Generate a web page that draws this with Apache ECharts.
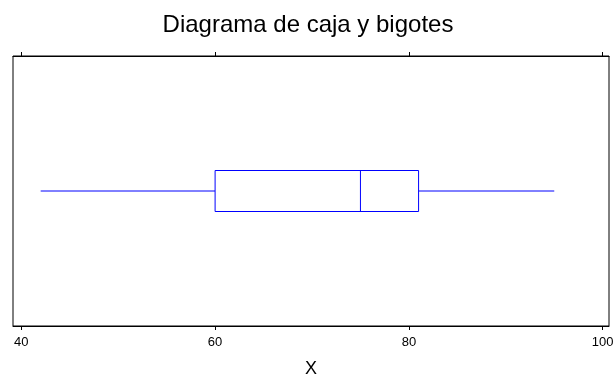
<!DOCTYPE html>
<html>
<head>
<meta charset="utf-8">
<script src="https://cdn.jsdelivr.net/npm/echarts@6/dist/echarts.min.js"></script>
<style>
  html, body { margin: 0; padding: 0; background: #fff; }
  #chart { width: 616px; height: 376px; }
</style>
</head>
<body>
<div id="chart"></div>
<script>
// Five-number summary of X: [min, Q1, median, Q3, max]
const categories = ['X'];
const boxValues = [[42, 60, 75, 81, 95]];
const tickValues = [40, 60, 80, 100];

const titleText = 'Diagrama de caja y bigotes';
const axisName = 'X';

const font = '"Liberation Sans", Arial, sans-serif';
const BOX_HEIGHT = 41;
const BLUE = '#0000ff';

const chart = echarts.init(document.getElementById('chart'), null, { renderer: 'canvas' });

// Box with plain whiskers (no end caps), positioned through the axes' scales
function renderBox(params, api) {
  const lo = api.value(0), q1 = api.value(1), med = api.value(2),
        q3 = api.value(3), hi = api.value(4), cat = api.value(5);
  const pLo = api.coord([lo, cat]);
  const pQ1 = api.coord([q1, cat]);
  const pMed = api.coord([med, cat]);
  const pQ3 = api.coord([q3, cat]);
  const pHi = api.coord([hi, cat]);
  const cy = pMed[1];
  const half = BOX_HEIGHT / 2;
  const line = { stroke: BLUE, lineWidth: 1 };
  return {
    type: 'group',
    children: [
      { type: 'line', shape: { x1: pLo[0], y1: cy, x2: pQ1[0], y2: cy }, style: line },
      { type: 'line', shape: { x1: pQ3[0], y1: cy, x2: pHi[0], y2: cy }, style: line },
      { type: 'rect', shape: { x: pQ1[0], y: cy - half, width: pQ3[0] - pQ1[0], height: BOX_HEIGHT },
        style: { fill: '#fff', stroke: BLUE, lineWidth: 1 } },
      { type: 'line', shape: { x1: pMed[0], y1: cy - half, x2: pMed[0], y2: cy + half }, style: line }
    ]
  };
}

chart.setOption({
  animation: false,
  backgroundColor: '#ffffff',
  title: {
    text: titleText,
    left: 'center',
    top: 8,
    textStyle: { fontFamily: font, fontSize: 24, fontWeight: 'normal', color: '#000' }
  },
  grid: {
    left: 13, right: 7, top: 56, bottom: 50,
    outerBoundsMode: 'none',
    containLabel: false,
    show: true, borderColor: '#000', borderWidth: 1, backgroundColor: '#fff'
  },
  xAxis: [
    {
      type: 'value',
      position: 'bottom',
      min: 39.143, max: 100.65,
      name: axisName,
      nameLocation: 'middle',
      nameGap: 34,
      nameTextStyle: { fontFamily: font, fontSize: 18, color: '#000' },
      splitLine: { show: false },
      axisLine: { show: true, lineStyle: { color: '#000', width: 1 } },
      axisTick: { show: true, length: 4, lineStyle: { color: '#000' }, customValues: tickValues },
      axisLabel: { fontFamily: font, fontSize: 13, color: '#000', margin: 10, customValues: tickValues }
    },
    {
      type: 'value',
      position: 'top',
      min: 39.143, max: 100.65,
      splitLine: { show: false },
      axisLine: { show: true, lineStyle: { color: '#000', width: 1 } },
      axisTick: { show: true, length: 4, lineStyle: { color: '#000' }, customValues: tickValues },
      axisLabel: { show: false }
    }
  ],
  yAxis: {
    type: 'category',
    data: categories,
    axisLine: { show: false },
    axisTick: { show: false },
    axisLabel: { show: false },
    splitLine: { show: false }
  },
  series: [{
    type: 'custom',
    xAxisIndex: 0,
    yAxisIndex: 0,
    renderItem: renderBox,
    encode: { x: [0, 1, 2, 3, 4], y: 5 },
    data: boxValues.map((v, i) => v.concat([i])),
    silent: true
  }]
});
</script>
</body>
</html>
